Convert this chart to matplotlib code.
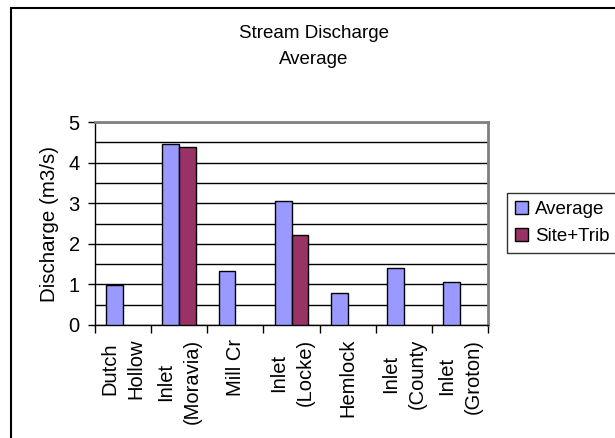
import numpy as np
import matplotlib.pyplot as plt
from matplotlib.patches import Rectangle
from matplotlib.ticker import MultipleLocator, FixedLocator

plt.rcParams.update({
    "font.family": ["Liberation Sans", "DejaVu Sans"],
    "font.size": 13.5,
})

sites = ["Dutch\nHollow", "Inlet\n(Moravia)", "Mill Cr", "Inlet\n(Locke)",
         "Hemlock", "Inlet\n(County", "Inlet\n(Groton)"]
average = [0.98, 4.47, 1.32, 3.06, 0.80, 1.41, 1.06]
site_trib = [np.nan, 4.39, np.nan, 2.21, np.nan, np.nan, np.nan]

W, H = 615, 438
fig = plt.figure(figsize=(W / 100, H / 100), dpi=100)

# outer chart frame (only left/top visible in the original)
fig.patches.append(Rectangle((11 / W, -0.1), 1.2, 1 - 8 / H + 0.1, transform=fig.transFigure,
                             fill=False, edgecolor="black", linewidth=1.5))

ax = fig.add_axes([95 / W, 1 - 325 / H, (488 - 95) / W, (325 - 122) / H])

x = np.arange(len(sites))
w = 0.3
ax.bar(x - w / 2, average, w, color="#9999FF", edgecolor="black", linewidth=1.0,
       label="Average", zorder=3)
ax.bar(x + w / 2, site_trib, w, color="#993366", edgecolor="black", linewidth=1.0,
       label="Site+Trib", zorder=3)

ax.set_xlim(-0.5, len(sites) - 0.5)
ax.set_ylim(0, 5)
ax.yaxis.set_major_locator(MultipleLocator(1))
ax.yaxis.set_minor_locator(MultipleLocator(0.5))
ax.grid(axis="y", which="both", color="black", linewidth=1.0, zorder=1)
ax.tick_params(axis="y", which="major", length=5, width=1, pad=6, labelsize=14.5)
ax.tick_params(axis="y", which="minor", length=0)

ax.set_xticks(x)
ax.set_xticklabels(sites, rotation=90, ha="center", va="top", multialignment="center",
                   linespacing=1.5, fontsize=14.5)
ax.xaxis.set_minor_locator(FixedLocator(np.arange(-0.5, len(sites), 1.0)))
ax.tick_params(axis="x", which="major", length=0, pad=10)
ax.tick_params(axis="x", which="minor", length=6, width=1)

for side in ["top", "right"]:
    ax.spines[side].set_color("#808080")
    ax.spines[side].set_linewidth(2)
for side in ["left", "bottom"]:
    ax.spines[side].set_color("black")
    ax.spines[side].set_linewidth(1)

ax.set_ylabel("Discharge (m3/s)", fontsize=14.8, labelpad=7)

fig.text(314 / W, 1 - 33 / H, "Stream Discharge", ha="center", va="center")
fig.text(314 / W, 1 - 59 / H, "Average", ha="center", va="center")

leg = fig.legend(loc="center left", bbox_to_anchor=(507 / W, 1 - 223 / H), frameon=True,
                 fancybox=False, edgecolor="black", handlelength=0.7, handleheight=0.7,
                 handletextpad=0.4, borderpad=0.4, labelspacing=0.55, borderaxespad=0)
leg.get_frame().set_linewidth(1.0)

fig.savefig("out.png", dpi=100)
